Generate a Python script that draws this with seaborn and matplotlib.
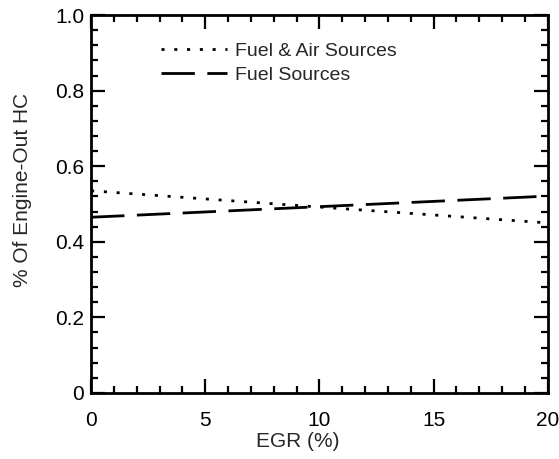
import matplotlib
matplotlib.use("Agg")
import matplotlib.pyplot as plt
from matplotlib.ticker import MultipleLocator
import pandas as pd
import seaborn as sns

# EGR sweep (%) and fraction of engine-out HC attributed to each source
egr = [0, 10, 20]
fuel_air = [0.535, 0.492, 0.450]
fuel_only = [0.465, 0.493, 0.521]
series_names = ["Fuel & Air Sources", "Fuel Sources"]

df = pd.concat([
    pd.DataFrame({"EGR": egr, "HC": fuel_air, "src": series_names[0]}),
    pd.DataFrame({"EGR": egr, "HC": fuel_only, "src": series_names[1]}),
])

sns.set_style("ticks")
plt.rcParams["font.family"] = ["Liberation Sans", "DejaVu Sans"]

fig = plt.figure(figsize=(5.59, 4.59), dpi=100)
ax = fig.add_axes([0.163, 0.144, 0.817, 0.823])

sns.lineplot(data=df, x="EGR", y="HC", hue="src", style="src",
             palette=["black", "black"],
             dashes={series_names[0]: (1.1, 3.5), series_names[1]: (12, 4.5)},
             linewidth=2.0, legend=True, ax=ax)

ax.set_xlim(0, 20)
ax.set_ylim(0, 1.0)
ax.xaxis.set_major_locator(MultipleLocator(5))
ax.xaxis.set_minor_locator(MultipleLocator(1))
ax.yaxis.set_minor_locator(MultipleLocator(0.04))
ax.set_yticks([0, 0.2, 0.4, 0.6, 0.8, 1.0])
ax.set_yticklabels(["0", "0.2", "0.4", "0.6", "0.8", "1.0"])

ax.tick_params(which="both", direction="in", top=True, right=True,
               labelsize=15, width=1.6, colors="black")
ax.tick_params(axis="x", which="major", pad=13)
ax.tick_params(axis="y", which="major", pad=5)
ax.tick_params(which="major", length=10)
ax.tick_params(which="minor", length=5)
for s in ax.spines.values():
    s.set_linewidth(2.0)
    s.set_color("black")

ax.set_xlabel("EGR (%)", fontsize=15)
ax.set_ylabel("% Of Engine-Out HC", fontsize=15)
ax.xaxis.set_label_coords(0.453, -0.103)
ax.yaxis.set_label_coords(-0.13, 0.537)

leg = ax.legend(loc="upper left", bbox_to_anchor=(0.114, 0.975), frameon=False,
                fontsize=14, handlelength=3.4, handletextpad=0.4,
                labelspacing=0.35)

fig.savefig("out.png", dpi=100)
